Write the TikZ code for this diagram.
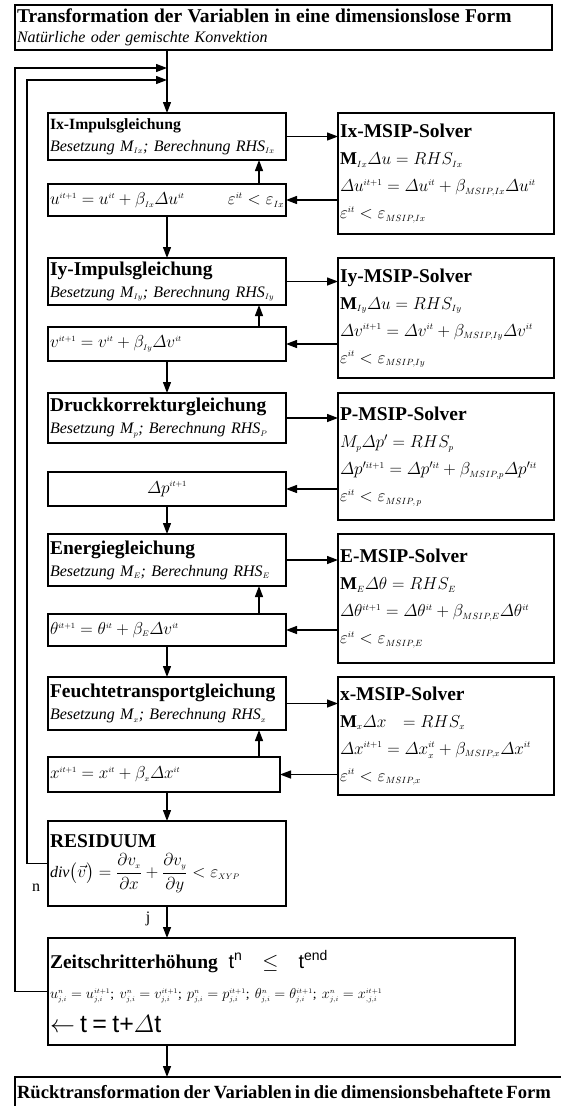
\documentclass[tikz,border=0pt]{standalone}
\usepackage{amsmath}
\usepackage{fontspec}
\setmainfont{Liberation Serif}
\setsansfont{Liberation Sans}
\usetikzlibrary{arrows.meta, positioning, calc}
\newcommand{\hi}[1]{^{\scriptscriptstyle #1}}
\newcommand{\lo}[1]{_{\scriptscriptstyle #1}}
\newcommand{\fs}[2]{\fontsize{#1}{#2}\selectfont}
\newcommand{\boxtitle}[1]{{\fs{19.5}{22}\bfseries #1}}
\newcommand{\besetzung}[2]{\mbox{\fs{16}{19}\itshape Besetzung M$\lo{#1}$; Berechnung RHS$\lo{#2}$}}
\tikzset{
  framebox/.style={draw, line width=1.1pt, inner sep=2pt, outer sep=0pt, align=left, anchor=north west},
  headbox/.style={framebox, text width=234pt, minimum height=50pt, font=\fs{16}{22}},
  updbox/.style={framebox, text width=234pt, minimum height=33pt, font=\fs{17}{20}},
  solverbox/.style={framebox, text width=212pt, minimum height=122pt, font=\fs{18}{27}},
  looplabel/.style={font=\fs{16}{18}},
}
\begin{document}
\begin{tikzpicture}[x=1pt, y=-1pt,
  arrow/.style={-{Triangle[length=11pt, width=8pt]}, line width=1.3pt}
]
  \useasboundingbox (0,0) rectangle (561,1106);

  \node (top) [framebox, text width=533pt, minimum height=45pt, font=\fs{16}{20}] at (15,5)
    {{\fs{19.5}{22}\bfseries Transformation der Variablen in eine dimensionslose Form}\\
     \textit{Natürliche oder gemischte Konvektion}};

  % Ix
  \node (ix) [headbox, below right=63pt and 33pt of top.south west, minimum height=47pt]
    {{\fs{15.7}{18}\bfseries Ix-Impulsgleichung}\\ \besetzung{Ix}{Ix}};
  \node (ixs) [solverbox, right=52pt of ix.north east, anchor=north west, minimum height=121pt]
    {{\fs{19.5}{22}\bfseries Ix-MSIP-Solver}\\
     $\mathbf{M}\lo{Ix}\varDelta u = RHS\lo{Ix}$\\
     $\varDelta u\hi{it+1} = \varDelta u\hi{it} + \beta\lo{MSIP,Ix}\varDelta u\hi{it}$\\
     $\varepsilon\hi{it} < \varepsilon\lo{MSIP,Ix}$};
  \node (ubox) [updbox, below=24pt of ix.south west, anchor=north west, minimum height=32pt]
    {$u\hi{it+1} = u\hi{it} + \beta\lo{Ix}\varDelta u\hi{it}$\hskip 0pt plus 1filll{\fs{19}{20}$\varepsilon\hi{it} < \varepsilon\lo{Ix}$}\hspace*{4pt}};

  % Iy
  \node (iy) [headbox, below=42pt of ubox.south west, anchor=north west, minimum height=47pt]
    {\boxtitle{Iy-Impulsgleichung}\\ \besetzung{Iy}{Iy}};
  \node (iys) [solverbox, right=52pt of iy.north east, anchor=north west, minimum height=120pt]
    {{\fs{19.5}{22}\bfseries Iy-MSIP-Solver}\\
     $\mathbf{M}\lo{Iy}\varDelta u = RHS\lo{Iy}$\\
     $\varDelta v\hi{it+1} = \varDelta v\hi{it} + \beta\lo{MSIP,Iy}\varDelta v\hi{it}$\\
     $\varepsilon\hi{it} < \varepsilon\lo{MSIP,Iy}$};
  \node (vbox) [updbox, below=22pt of iy.south west, anchor=north west, minimum height=34pt]
    {$v\hi{it+1} = v\hi{it} + \beta\lo{Iy}\varDelta v\hi{it}$};

  % Druck
  \node (druck) [headbox, below=32pt of vbox.south west, anchor=north west, minimum height=50pt]
    {\boxtitle{Druckkorrekturgleichung}\\ \besetzung{p}{P}};
  \node (ps) [solverbox, right=52pt of druck.north east, anchor=north west, minimum height=127pt]
    {{\fs{19.5}{22}\bfseries P-MSIP-Solver}\\
     $M\lo{p}\varDelta p' = RHS\lo{p}$\\
     $\varDelta p^{\prime\scriptscriptstyle it+1} = \varDelta p^{\prime\scriptscriptstyle it} + \beta\lo{MSIP,p}\varDelta p^{\prime\scriptscriptstyle it}$\\
     $\varepsilon\hi{it} < \varepsilon\lo{MSIP,\,p}$};
  \node (dp) [updbox, below=29pt of druck.south west, anchor=north west, minimum height=34pt, align=center]
    {$\varDelta p\hi{it+1}$};

  % Energie
  \node (energie) [headbox, below=28pt of dp.south west, anchor=north west, minimum height=52pt]
    {\boxtitle{Energiegleichung}\\ \besetzung{E}{E}};
  \node (es) [solverbox, right=52pt of energie.north east, anchor=north west, minimum height=129pt]
    {{\fs{19.5}{22}\bfseries E-MSIP-Solver}\\
     $\mathbf{M}\lo{E}\varDelta\theta = RHS\lo{E}$\\
     $\varDelta\theta\hi{it+1} = \varDelta\theta\hi{it} + \beta\lo{MSIP,E}\varDelta\theta\hi{it}$\\
     $\varepsilon\hi{it} < \varepsilon\lo{MSIP,E}$};
  \node (theta) [updbox, below=28pt of energie.south west, anchor=north west, minimum height=32pt]
    {$\theta\hi{it+1} = \theta\hi{it} + \beta\lo{E}\varDelta v\hi{it}$};

  % Feuchte
  \node (feucht) [headbox, below=31pt of theta.south west, anchor=north west, minimum height=53pt]
    {\boxtitle{Feuchtetransportgleichung}\\ \besetzung{x}{x}};
  \node (xs) [solverbox, right=52pt of feucht.north east, anchor=north west, minimum height=118pt]
    {{\fs{19.5}{22}\bfseries x-MSIP-Solver}\\
     $\mathbf{M}\lo{x}\varDelta x\ \ = RHS\lo{x}$\\
     $\varDelta x\hi{it+1} = \varDelta x\hi{it}\lo{x} + \beta\lo{MSIP,x}\varDelta x\hi{it}$\\
     $\varepsilon\hi{it} < \varepsilon\lo{MSIP,x}$};
  \node (xbox) [updbox, text width=228pt, below=27pt of feucht.south west, anchor=north west, minimum height=35pt]
    {$x\hi{it+1} = x\hi{it} + \beta\lo{x}\varDelta x\hi{it}$};

  % Residuum und Zeitschritt
  \node (resid) [framebox, text width=234pt, minimum height=85pt, font=\fs{16}{30},
                 below=29pt of xbox.south west, anchor=north west]
    {\boxtitle{RESIDUUM}\\
     $\mathit{div}\bigl(\vec{v}\bigr) = \dfrac{\partial v\lo{x}}{\partial x} + \dfrac{\partial v\lo{y}}{\partial y} < \varepsilon\lo{XYP}$};
  \node (zeit) [framebox, text width=463pt, minimum height=107pt, font=\fs{16}{30},
                below=32pt of resid.south west, anchor=north west]
    {\boxtitle{Zeitschritterhöhung}\ \ {\sffamily\fs{20}{22}t\textsuperscript{n}\quad $\leq$\quad t\textsuperscript{end}}\\
     {\fs{13.5}{16}$u\hi{n}\lo{j,i} = u\hi{it+1}\lo{j,i}$; $v\hi{n}\lo{j,i} = v\hi{it+1}\lo{j,i}$;
      $p\hi{n}\lo{j,i} = p\hi{it+1}\lo{j,i}$; $\theta\hi{n}\lo{j,i} = \theta\hi{it+1}\lo{j,i}$;
      $x\hi{n}\lo{j,i} = x\hi{it+1}\lo{,j,i}$}\\[4pt]
     {\sffamily\fs{25}{26}$\leftarrow$ t = t+$\varDelta$t}};
  \node (rueck) [inner sep=2pt, outer sep=0pt, text width=542pt, minimum height=30pt, align=left,
                 below=32pt of zeit.south west, anchor=north west, xshift=-33pt]
    {{\fs{18.6}{20}\bfseries Rücktransformation der Variablen in die dimensionsbehaftete Form}};
  \draw[line width=1.1pt] (rueck.south west) -- (rueck.north west) -- (rueck.north east);

  \node (nlab) [looplabel] at (36,888) {n};
  \node (jlab) [looplabel] at (148,919) {j};

  % Verbindungen
  \draw[arrow] (top.south -| ix.north) -- (ix.north);
  \draw[arrow] (ix.east) -- (ix.east -| ixs.west);
  \draw[arrow] (ubox.east -| ixs.west) -- (ubox.east);
  \coordinate (uup) at ($(ubox.north east)+(-27pt,0)$);
  \draw[arrow] (uup) -- (uup |- ix.south);
  \draw[arrow] (ubox.south) -- (iy.north);

  \draw[arrow] (iy.east) -- (iy.east -| iys.west);
  \draw[arrow] (vbox.east -| iys.west) -- (vbox.east);
  \coordinate (vup) at ($(vbox.north east)+(-27pt,0)$);
  \draw[arrow] (vup) -- (vup |- iy.south);
  \draw[arrow] (vbox.south) -- (druck.north);

  \draw[arrow] (druck.east) -- (druck.east -| ps.west);
  \draw[arrow] (dp.east -| ps.west) -- (dp.east);
  \draw[arrow] (dp.south) -- (energie.north);

  \draw[arrow] (energie.east) -- (energie.east -| es.west);
  \draw[arrow] (theta.east -| es.west) -- (theta.east);
  \coordinate (tup) at ($(theta.north east)+(-27pt,0)$);
  \draw[arrow] (tup) -- (tup |- energie.south);
  \draw[arrow] (theta.south) -- (feucht.north);

  \draw[arrow] (feucht.east) -- (feucht.east -| xs.west);
  \draw[arrow] (xbox.east -| xs.west) -- (xbox.east);
  \coordinate (xup) at (vup |- xbox.north);
  \draw[arrow] (xup) -- (xup |- feucht.south);
  \draw[arrow] (xbox.south -| resid.north) -- (resid.north);

  \draw[arrow] (resid.south) -- (resid.south |- zeit.north);
  \draw[arrow] (zeit.south -| resid.south) -- (rueck.north -| resid.south);

  % Rueckfuehrungen
  \coordinate (outer) at (15,68);
  \coordinate (inner) at (27,80);
  \draw[arrow] (zeit.west) -| (outer) -- (outer -| ix.north);
  \draw[arrow] (resid.west) -| (inner) -- (inner -| ix.north);
\end{tikzpicture}
\end{document}
